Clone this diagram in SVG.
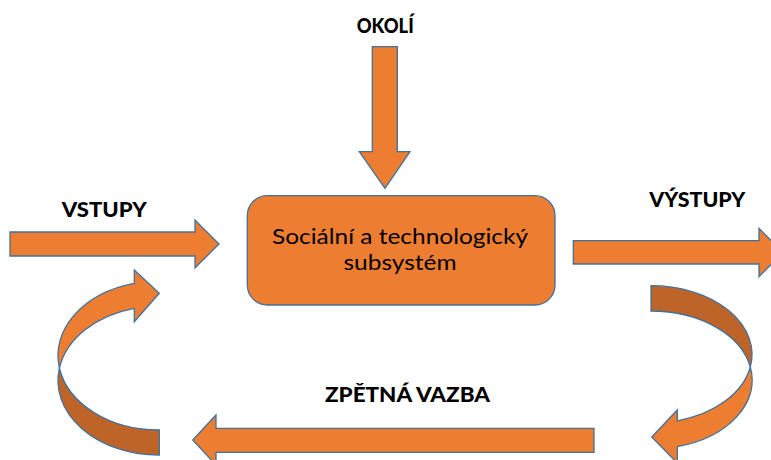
<svg xmlns="http://www.w3.org/2000/svg" width="771" height="460" viewBox="0 0 771 460">
  <style>
    .shape { fill: #ED7D31; stroke: #41719C; stroke-width: 1.3; stroke-linejoin: miter; }
    .back { fill: #BF6428; stroke: #41719C; stroke-width: 1.3; }
    .label { font-family: Lato, "Liberation Sans", Arial, sans-serif; font-weight: 900; font-size: 21px; fill: #000; }
    .body { font-family: Lato, "Liberation Sans", Arial, sans-serif; font-size: 21px; fill: #000; text-anchor: middle; }
  </style>
  <rect width="771" height="460" fill="#FFFFFF"/>

  <g id="connectors">
    <!-- environment input, top -->
    <path id="arrow-okoli" class="shape" d="M372.3 46.7 H397.3 V151.7 H410 L385 188.3 L359.3 151.7 H372.3 Z"/>
    <!-- inputs, left -->
    <path id="arrow-vstupy" class="shape" d="M10 232 H195 V220 L219 244 L195 268 V256 H10 Z"/>
    <!-- outputs, right -->
    <path id="arrow-vystupy" class="shape" d="M573.3 240.7 H759 V228.3 L783 252.4 L759 276.7 V264 H573.3 Z"/>
    <!-- feedback, bottom -->
    <path id="arrow-feedback" class="shape" d="M594 428.3 V452.3 H216 V465 L192.7 440 L216 415 V428.3 Z"/>

    <!-- right curved arrow: back band then front band with head -->
    <path class="back" d="M651 285.7 A101 68.7 0 0 1 750.3 367 A101 68.7 0 0 0 651 311 Z"/>
    <path class="shape" d="M750.3 367 A101 68.7 0 0 1 677.3 420.8 V410 L651.7 437 L677.3 463 V446.6 A101 68.7 0 0 0 750.3 367 Z"/>

    <!-- left curved arrow: back band then front band with head -->
    <path class="back" d="M59.4 368 A101 74.5 0 0 0 159.3 430 V455 A101 74.5 0 0 1 59.4 368 Z"/>
    <path class="shape" d="M134.3 283.3 A101 74.5 0 0 0 59.4 368 A101 74.5 0 0 1 134.3 308.3 V321.7 L159.3 293.3 L134.3 270 Z"/>
  </g>

  <g id="system">
    <rect class="shape" x="247.3" y="195.7" width="307.7" height="109.3" rx="20" ry="20"/>
    <text class="body" x="400" y="244.3" textLength="256" lengthAdjust="spacingAndGlyphs">Sociální a technologický</text>
    <text class="body" x="400" y="270" textLength="113" lengthAdjust="spacingAndGlyphs">subsystém</text>
  </g>

  <g id="label-okoli">
    <text class="label" x="356.7" y="33.3" textLength="57" lengthAdjust="spacingAndGlyphs">OKOLÍ</text>
  </g>
  <g id="label-vstupy">
    <text class="label" x="61.7" y="217.3" textLength="85" lengthAdjust="spacingAndGlyphs">VSTUPY</text>
  </g>
  <g id="label-vystupy">
    <text class="label" x="649.3" y="206.7" textLength="96" lengthAdjust="spacingAndGlyphs">VÝSTUPY</text>
  </g>
  <g id="label-feedback">
    <text class="label" x="325" y="402.3" textLength="165" lengthAdjust="spacingAndGlyphs">ZPĚTNÁ VAZBA</text>
  </g>
</svg>
